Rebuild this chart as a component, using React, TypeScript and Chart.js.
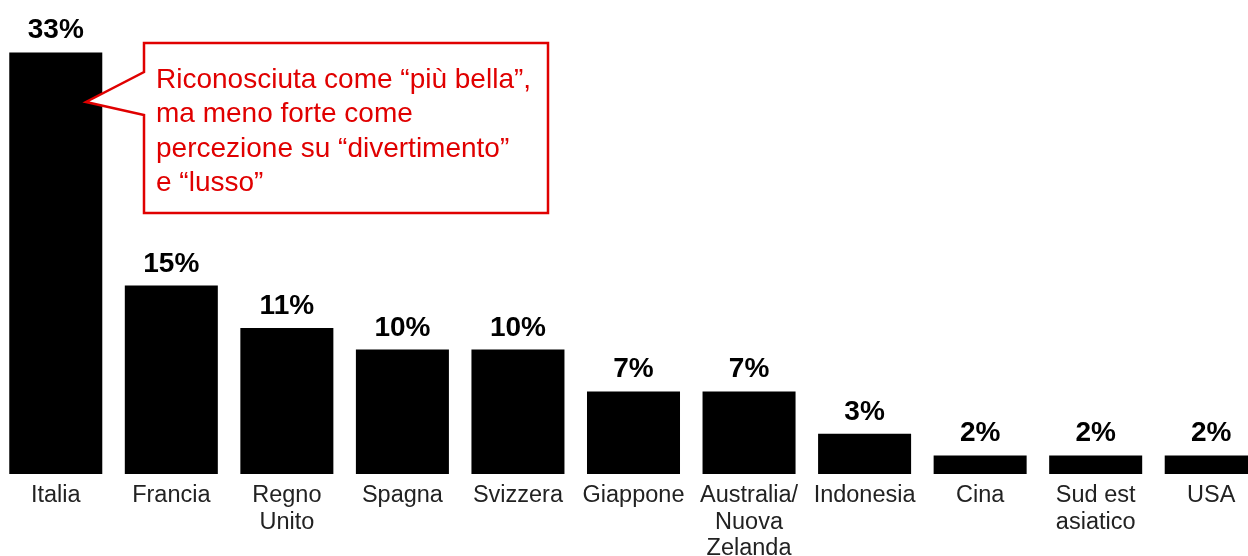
import React, { useEffect, useRef } from "react";
import { Chart, registerables } from "chart.js";

Chart.register(...registerables);

const categories: (string | string[])[] = [
  "Italia",
  "Francia",
  ["Regno", "Unito"],
  "Spagna",
  "Svizzera",
  "Giappone",
  ["Australia/", "Nuova", "Zelanda"],
  "Indonesia",
  "Cina",
  ["Sud est", "asiatico"],
  "USA",
];

const values: number[] = [33, 14.75, 11.43, 9.74, 9.74, 6.46, 6.46, 3.15, 1.45, 1.45, 1.45];

const valueLabels: string[] = ["33%", "15%", "11%", "10%", "10%", "7%", "7%", "3%", "2%", "2%", "2%"];

const calloutLines: string[] = [
  "Riconosciuta come \u201cpiù bella\u201d,",
  "ma meno forte come",
  "percezione su \u201cdivertimento\u201d",
  "e \u201clusso\u201d",
];

const FONT = '"Liberation Sans", Arial, Helvetica, sans-serif';
const RED = "#e00000";
const CANVAS_LEFT = -2;

export default function App() {
  const ref = useRef<HTMLCanvasElement | null>(null);

  useEffect(() => {
    if (!ref.current) return;
    const ox = -CANVAS_LEFT;

    const valueLabelPlugin = {
      id: "valueLabels",
      afterDatasetsDraw(chart: any) {
        const ctx = chart.ctx;
        const meta = chart.getDatasetMeta(0);
        ctx.save();
        ctx.fillStyle = "#000";
        ctx.font = `bold 28px ${FONT}`;
        ctx.textAlign = "center";
        ctx.textBaseline = "alphabetic";
        meta.data.forEach((bar: any, i: number) => {
          ctx.fillText(valueLabels[i], bar.x, bar.y - 14);
        });
        ctx.restore();
      },
    };

    const calloutPlugin = {
      id: "callout",
      afterDraw(chart: any) {
        const ctx = chart.ctx;
        ctx.save();
        ctx.beginPath();
        ctx.moveTo(144 + ox, 43);
        ctx.lineTo(548 + ox, 43);
        ctx.lineTo(548 + ox, 213);
        ctx.lineTo(144 + ox, 213);
        ctx.lineTo(144 + ox, 115);
        ctx.lineTo(86 + ox, 102);
        ctx.lineTo(144 + ox, 72);
        ctx.closePath();
        ctx.fillStyle = "#fff";
        ctx.fill();
        ctx.lineWidth = 2.5;
        ctx.strokeStyle = RED;
        ctx.lineJoin = "miter";
        ctx.stroke();
        ctx.fillStyle = RED;
        ctx.font = `28px ${FONT}`;
        ctx.textAlign = "left";
        ctx.textBaseline = "alphabetic";
        calloutLines.forEach((line, i) => {
          ctx.fillText(line, 156 + ox, 88 + i * 34.3);
        });
        ctx.restore();
      },
    };

    const chart = new Chart(ref.current, {
      type: "bar",
      data: {
        labels: categories,
        datasets: [
          {
            data: values,
            backgroundColor: "#000",
            borderWidth: 0,
            barPercentage: 0.805,
            categoryPercentage: 1,
          },
        ],
      },
      options: {
        animation: false,
        responsive: false,
        devicePixelRatio: 1,
        layout: { padding: 0 },
        plugins: {
          legend: { display: false },
          tooltip: { enabled: false },
          title: { display: false },
        },
        scales: {
          x: {
            grid: { display: false, drawTicks: false },
            border: { display: false },
            ticks: {
              color: "#222",
              font: { family: FONT, size: 23.5, lineHeight: 1.14 },
              padding: 8,
              maxRotation: 0,
              minRotation: 0,
              autoSkip: false,
            },
            afterFit: (scale: any) => {
              scale.height = 82;
            },
          },
          y: {
            display: false,
            min: 0,
            max: 37.1,
          },
        },
      },
      plugins: [valueLabelPlugin, calloutPlugin],
    });

    return () => chart.destroy();
  }, []);

  return (
    <div
      style={{
        position: "fixed",
        left: 0,
        top: 0,
        width: 1248,
        height: 556,
        overflow: "hidden",
        background: "#fff",
      }}
    >
      <canvas
        ref={ref}
        width={1271}
        height={556}
        style={{ position: "absolute", left: CANVAS_LEFT, top: 0, width: 1271, height: 556, display: "block" }}
      />
    </div>
  );
}
